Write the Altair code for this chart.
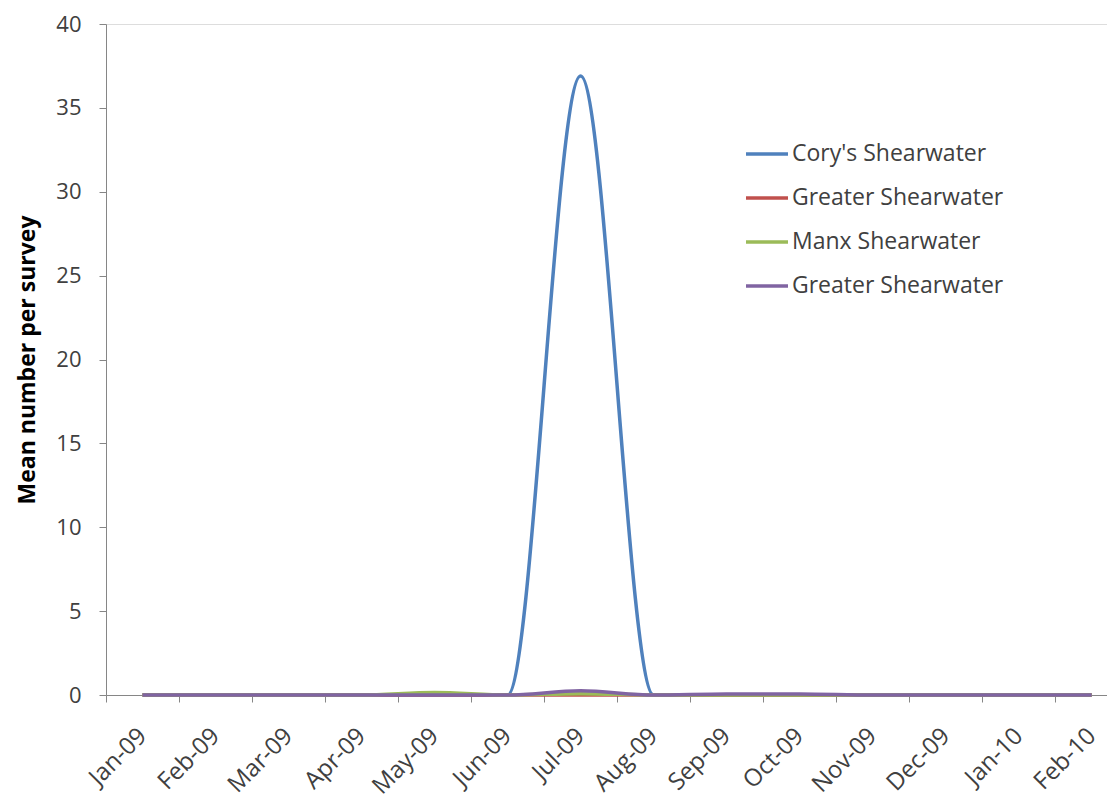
import json
import altair as alt
import pandas as pd

months = ["Jan-09", "Feb-09", "Mar-09", "Apr-09", "May-09", "Jun-09", "Jul-09",
          "Aug-09", "Sep-09", "Oct-09", "Nov-09", "Dec-09", "Jan-10", "Feb-10"]
species = ["Cory's Shearwater", "Greater Shearwater", "Manx Shearwater", "Greater Shearwater"]
cory = [0, 0, 0, 0, 0, 0, 36.9, 0, 0, 0, 0, 0, 0, 0]
greater = [0, 0, 0, 0, 0, 0, 0, 0, 0, 0, 0, 0, 0, 0]
manx = [0, 0, 0, 0, 0.15, 0, 0.08, 0, 0, 0, 0, 0, 0, 0]
greater2 = [0, 0, 0, 0, 0, 0, 0.25, 0, 0.06, 0.06, 0, 0, 0, 0]
colors = ["#4F81BD", "#C0504D", "#9BBB59", "#8064A2"]

series = [cory, greater, manx, greater2]
rows = []
for k, vals in enumerate(series):
    for i, v in enumerate(vals):
        rows.append({"idx": i, "value": v, "key": str(k)})
df = pd.DataFrame(rows)

FONT = "Open Sans"
keys = [str(k) for k in range(len(species))]

tick_values = [i * 0.5 - 0.5 for i in range(2 * len(months))]
x_label_expr = f"datum.value % 1 == 0 ? {json.dumps(months)}[datum.value] : ''"
legend_label_expr = f"{json.dumps(species)}[toNumber(datum.value)]"

x_enc = alt.X(
    "idx:Q",
    scale=alt.Scale(domain=[-0.5, 13.21], nice=False, zero=False),
    axis=alt.Axis(
        title=None, values=tick_values, labelExpr=x_label_expr,
        labelAngle=-45, labelAlign="right", labelBaseline="middle",
        labelFlush=False, labelOverlap=False, labelPadding=30,
        labelFont=FONT, labelFontSize=24, labelColor="#404040",
        tickSize=7, tickColor="#868686", domainColor="#868686",
        tickOpacity={"condition": {"test": "datum.value % 1 != 0", "value": 1}, "value": 0},
        grid=False,
    ),
)
y_enc = alt.Y(
    "value:Q",
    scale=alt.Scale(domain=[0, 40], nice=False),
    axis=alt.Axis(
        title="Mean number per survey", values=list(range(0, 41, 5)),
        titleFont=FONT, titleFontSize=23, titleFontWeight="bold", titleColor="#000000",
        titlePadding=16,
        labelFont=FONT, labelFontSize=22, labelColor="#404040", labelPadding=18,
        tickSize=7, tickColor="#868686", domainColor="#868686", grid=False,
    ),
)
color_enc = alt.Color(
    "key:N",
    scale=alt.Scale(domain=keys, range=colors),
    legend=alt.Legend(
        title=None, orient="none", legendX=638, legendY=107,
        labelExpr=legend_label_expr, labelFont=FONT, labelFontSize=23,
        labelLimit=0,
        labelColor="#404040", symbolType="stroke", symbolSize=1764,
        symbolStrokeWidth=3.5, labelOffset=2, rowPadding=9, padding=0,
    ),
)

layers = []
for k in keys:
    layers.append(
        alt.Chart(df)
        .transform_filter(alt.datum.key == k)
        .mark_line(interpolate="monotone", strokeWidth=3.5)
        .encode(x=x_enc, y=y_enc, color=color_enc)
    )

chart = (
    alt.layer(*layers)
    .properties(width=1001, height=671,
                padding={"left": 8, "top": 5, "right": 0, "bottom": 0})
    .configure_view(stroke=None)
    .configure(background="white")
)

chart.save("out.html", embed_options={"renderer": "svg", "actions": False})
